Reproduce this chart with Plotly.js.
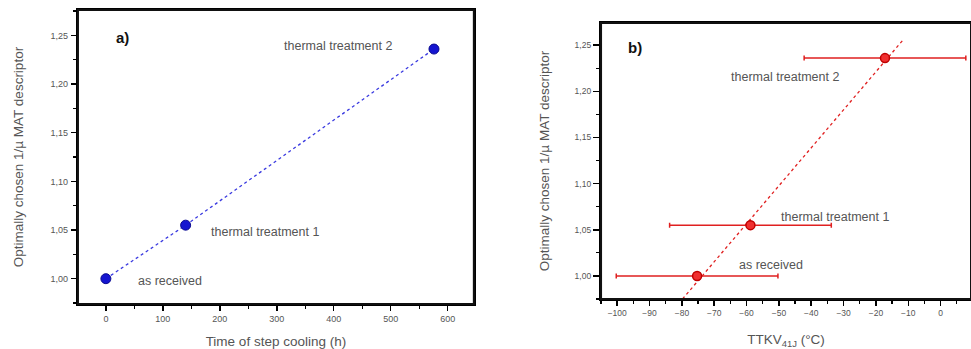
<!DOCTYPE html>
<html><head><meta charset="utf-8">
<script src="https://cdn.plot.ly/plotly-3.0.1.min.js"></script>
<style>body{margin:0;background:#fff}#c{width:971px;height:349px}</style>
</head><body><div id="c"></div>
<script>
// Panel a) data
const labelsA = ["as received", "thermal treatment 1", "thermal treatment 2"];
const timeA = [0, 140, 576];
const descA = [1.000, 1.055, 1.236];
// Panel b) data
const ttkvB = [-75.3, -58.8, -17.2];
const descB = [1.000, 1.055, 1.236];
const errB = [25, 25, 25];
// Fit line of panel b (endpoints)
const fitX = [-79.8, -11.3];
const fitY = [0.975, 1.257];

const fam = "Liberation Sans, Arial, sans-serif";
const tickFont = {family: fam, size: 9, color: "#555"};
const titleFont = {family: fam, size: 13.5, color: "#555"};
const annFont = {family: fam, size: 12.5, color: "#555"};

function axisBase(extra) {
  return Object.assign({
    showgrid: false, zeroline: false, showline: true, mirror: true,
    linecolor: "#000", linewidth: 2.2, ticks: "outside", ticklen: 5,
    tickcolor: "#000", tickwidth: 1.5, tickfont: tickFont
  }, extra);
}

const traces = [
  {x: timeA, y: descA, xaxis: "x", yaxis: "y", mode: "lines+markers", type: "scatter",
   line: {color: "#3a3ae0", width: 1.3, dash: "dot"},
   marker: {size: 10, color: "#1515d0", line: {color: "#0a0a90", width: 1}},
   showlegend: false},
  {x: fitX, y: fitY, xaxis: "x2", yaxis: "y2", mode: "lines", type: "scatter",
   line: {color: "#e02020", width: 1.3, dash: "dot"}, showlegend: false},
  {x: ttkvB, y: descB, xaxis: "x2", yaxis: "y2", mode: "markers", type: "scatter",
   error_x: {type: "data", array: errB, symmetric: true, color: "#e02020", thickness: 1.5, width: 2.5},
   marker: {size: 9, color: "#f03030", line: {color: "#c00000", width: 1.5}},
   showlegend: false}
];

const frame = (xr, yr) => ({type: "rect", xref: xr + " domain", yref: yr + " domain",
  x0: 0, x1: 1, y0: 0, y1: 1, line: {color: "#111", width: 2}, layer: "above"});

const layout = {
  width: 971, height: 349,
  margin: {l: 0, r: 0, t: 0, b: 0},
  paper_bgcolor: "#fff", plot_bgcolor: "#fff",
  separators: ", ",
  shapes: [frame("x", "y"), frame("x2", "y2")],
  xaxis: axisBase({domain: [0.0803, 0.488], range: [-49, 646], dtick: 100, tick0: 0,
    minor: {dtick: 50, ticks: "outside", ticklen: 3, tickcolor: "#000", tickwidth: 1.3},
    title: {text: "Time of step cooling (h)", font: titleFont, standoff: 14}, anchor: "y"}),
  yaxis: axisBase({domain: [0.129, 0.971], range: [0.974, 1.276], dtick: 0.05, tick0: 1,
    tickformat: ".2f", ticklabelstandoff: 1,
    minor: {dtick: 0.025, ticks: "outside", ticklen: 3, tickcolor: "#000", tickwidth: 1.3},
    title: {text: "Optimally chosen 1/µ MAT descriptor", font: titleFont, standoff: 24}, anchor: "x"}),
  xaxis2: axisBase({domain: [0.619, 1.0], range: [-105, 9.4], dtick: 10, tick0: 0,
    tickfont: {family: fam, size: 8.5, color: "#555"},
    minor: {dtick: 5, ticks: "outside", ticklen: 3, tickcolor: "#000", tickwidth: 1.3},
    title: {text: "TTKV<sub>41J</sub> (°C)", font: titleFont, standoff: 17}, anchor: "y2"}),
  yaxis2: axisBase({domain: [0.1433, 0.934], range: [0.975, 1.274], dtick: 0.05, tick0: 1,
    tickformat: ".2f", ticklabelstandoff: 0, ticklen: 6,
    tickfont: {family: fam, size: 8.5, color: "#555"},
    minor: {dtick: 0.025, ticks: "outside", ticklen: 3, tickcolor: "#000", tickwidth: 1.3},
    title: {text: "Optimally chosen 1/µ MAT descriptor", font: titleFont, standoff: 22}, anchor: "x2"}),
  annotations: [
    {xref: "x", yref: "y", x: 30, y: 1.248, text: "<b>a)</b>", showarrow: false,
     font: {family: fam, size: 15, color: "#111"}},
    {xref: "x", yref: "y", x: 407, y: 1.239, text: labelsA[2], showarrow: false, font: annFont},
    {xref: "x", yref: "y", x: 279, y: 1.048, text: labelsA[1], showarrow: false, font: annFont},
    {xref: "x", yref: "y", x: 112, y: 0.998, text: labelsA[0], showarrow: false, font: annFont},
    {xref: "x2", yref: "y2", x: -94.5, y: 1.248, text: "<b>b)</b>", showarrow: false,
     font: {family: fam, size: 15, color: "#111"}},
    {xref: "x2", yref: "y2", x: -48.2, y: 1.216, text: labelsA[2], showarrow: false, font: annFont},
    {xref: "x2", yref: "y2", x: -32.8, y: 1.064, text: labelsA[1], showarrow: false, font: annFont},
    {xref: "x2", yref: "y2", x: -52.5, y: 1.012, text: labelsA[0], showarrow: false, font: annFont}
  ]
};

Plotly.newPlot("c", traces, layout, {staticPlot: true, displayModeBar: false});
</script></body></html>
